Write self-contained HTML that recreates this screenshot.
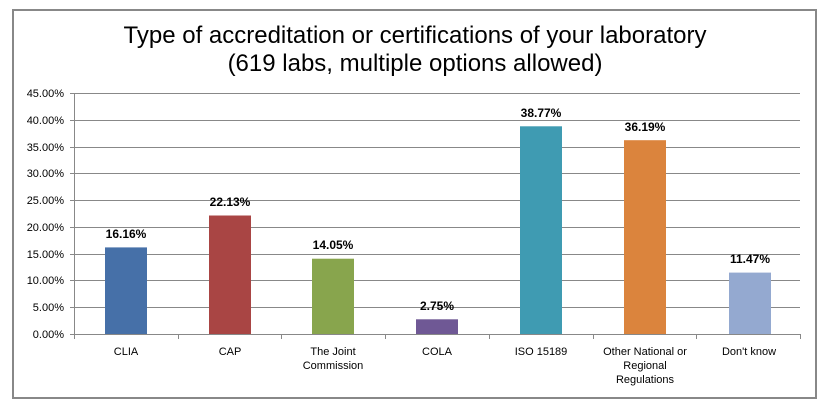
<!DOCTYPE html>
<html><head><style>
body{margin:0;background:#fff;width:829px;height:409px;overflow:hidden}
</style></head><body>
<svg width="829" height="409" xmlns="http://www.w3.org/2000/svg" font-family="Liberation Sans, sans-serif">
<rect x="13" y="10" width="803" height="388" fill="#fff" stroke="#888" stroke-width="2"/>
<text x="415" y="43" font-size="24" text-anchor="middle" fill="#000">Type of accreditation or certifications of your laboratory</text>
<text x="415" y="71" font-size="24" text-anchor="middle" fill="#000">(619 labs, multiple options allowed)</text>
<g stroke="#888" stroke-width="1">
<line x1="70" x2="800" y1="93.5" y2="93.5"/>
<line x1="70" x2="800" y1="120.5" y2="120.5"/>
<line x1="70" x2="800" y1="147.5" y2="147.5"/>
<line x1="70" x2="800" y1="173.5" y2="173.5"/>
<line x1="70" x2="800" y1="200.5" y2="200.5"/>
<line x1="70" x2="800" y1="227.5" y2="227.5"/>
<line x1="70" x2="800" y1="254.5" y2="254.5"/>
<line x1="70" x2="800" y1="280.5" y2="280.5"/>
<line x1="70" x2="800" y1="307.5" y2="307.5"/>
<line x1="70" x2="800" y1="334.5" y2="334.5"/>
<line x1="74.5" x2="74.5" y1="93" y2="334"/>
<line x1="74.5" x2="74.5" y1="334" y2="339"/>
<line x1="178.5" x2="178.5" y1="334" y2="339"/>
<line x1="281.5" x2="281.5" y1="334" y2="339"/>
<line x1="385.5" x2="385.5" y1="334" y2="339"/>
<line x1="489.5" x2="489.5" y1="334" y2="339"/>
<line x1="593.5" x2="593.5" y1="334" y2="339"/>
<line x1="696.5" x2="696.5" y1="334" y2="339"/>
<line x1="800.5" x2="800.5" y1="334" y2="339"/>
</g>
<g font-size="11" text-anchor="end" fill="#000">
<text x="64" y="97">45.00%</text><text x="64" y="124">40.00%</text><text x="64" y="151">35.00%</text>
<text x="64" y="177">30.00%</text><text x="64" y="204">25.00%</text><text x="64" y="231">20.00%</text>
<text x="64" y="258">15.00%</text><text x="64" y="284">10.00%</text><text x="64" y="311">5.00%</text>
<text x="64" y="338">0.00%</text>
</g>
<rect x="105" y="247.4" width="42" height="86.6" fill="#4670a8"/>
<rect x="209" y="215.5" width="42" height="118.5" fill="#a94544"/>
<rect x="312" y="258.7" width="42" height="75.3" fill="#88a54d"/>
<rect x="416" y="319.3" width="42" height="14.7" fill="#6f5895"/>
<rect x="520" y="126.3" width="42" height="207.7" fill="#3f9bb2"/>
<rect x="624" y="140.2" width="42" height="193.8" fill="#db843d"/>
<rect x="729" y="272.6" width="42" height="61.4" fill="#94a9d0"/>
<g font-size="12" font-weight="bold" text-anchor="middle" fill="#000">
<text x="126" y="238">16.16%</text><text x="230" y="206">22.13%</text><text x="333" y="249">14.05%</text>
<text x="437" y="310">2.75%</text><text x="541" y="117">38.77%</text><text x="645" y="131">36.19%</text>
<text x="750" y="263">11.47%</text>
</g>
<g font-size="11" text-anchor="middle" fill="#000">
<text x="126" y="355">CLIA</text><text x="230" y="355">CAP</text>
<text x="333" y="355">The Joint</text><text x="333" y="369">Commission</text>
<text x="437" y="355">COLA</text><text x="541" y="355">ISO 15189</text>
<text x="645" y="355">Other National or</text><text x="645" y="369">Regional</text><text x="645" y="383">Regulations</text>
<text x="749" y="355">Don't know</text>
</g>
</svg>
</body></html>
